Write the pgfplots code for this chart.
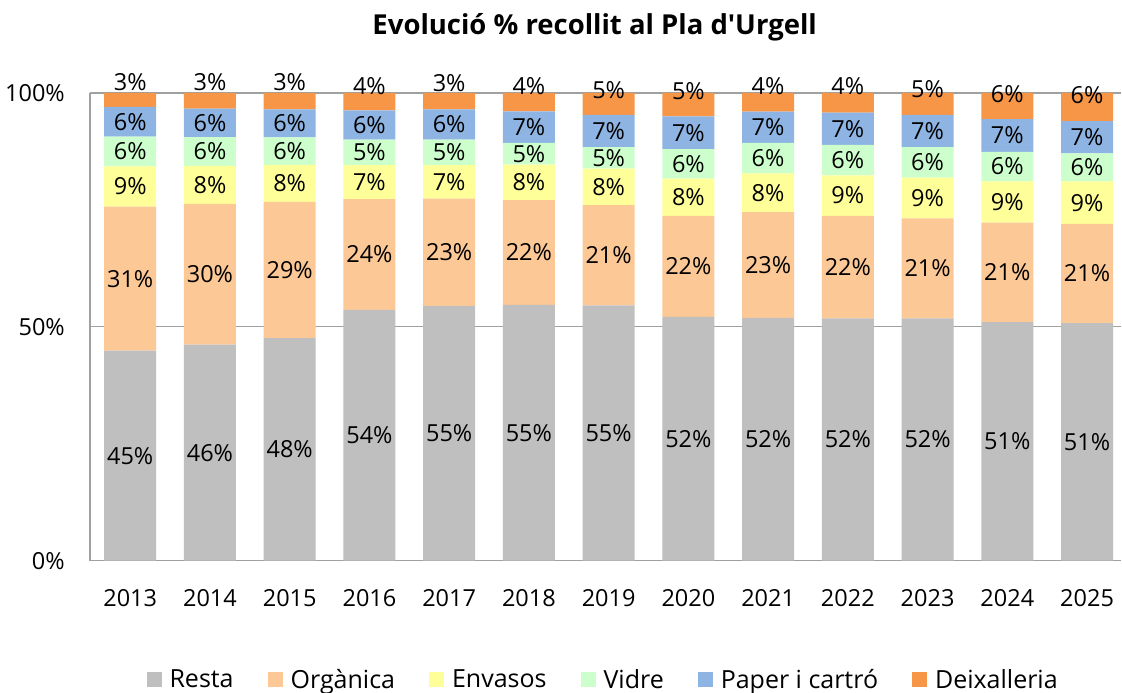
\documentclass[border=0pt]{standalone}
\usepackage{pgfplots}
\usepackage{pgfplotstable}
\pgfplotsset{compat=1.18}
\usepackage{fontspec}
\setmainfont{Open Sans}
\definecolor{cResta}{RGB}{191,191,191}
\definecolor{cOrg}{RGB}{252,200,150}
\definecolor{cEnv}{RGB}{255,255,153}
\definecolor{cVid}{RGB}{204,255,204}
\definecolor{cPap}{RGB}{142,180,227}
\definecolor{cDeix}{RGB}{247,150,70}
\definecolor{cAxis}{RGB}{160,160,160}
\newcommand\fs{\fontsize{23.5}{28}\selectfont}
\newcommand\fl{\fontsize{25}{30}\selectfont}

\pgfplotstableread{
x resta org env vid pap deix
0 44.9 30.8 8.6 6.35 6.35 3.0
1 46.2 30.1 8.1 6.15 6.1 3.35
2 47.6 29.1 7.9 5.9 6.0 3.5
3 53.6 23.7 7.25 5.45 6.25 3.75
4 54.5 22.9 7.15 5.45 6.5 3.5
5 54.7 22.4 7.55 4.65 6.75 3.95
6 54.6 21.4 7.8 4.6 6.9 4.7
7 52.1 21.6 8.0 6.3 7.0 5.0
8 51.9 22.6 8.3 6.5 6.7 4.0
9 51.8 21.9 8.7 6.5 6.9 4.2
10 51.8 21.4 8.7 6.5 6.9 4.7
11 51.0 21.3 8.8 6.3 7.0 5.6
12 50.8 21.2 9.1 6.0 6.9 6.0
}\data

\pgfplotstableread{
x y l
0 22.45 45
0 60.3 31
0 80.0 9
0 87.475 6
0 93.825 6
0 102.35 3
1 23.1 46
1 61.25 30
1 80.35 8
1 87.475 6
1 93.6 6
1 102.35 3
2 23.8 48
2 62.15 29
2 80.65 8
2 87.55 6
2 93.5 6
2 102.35 3
3 26.8 54
3 65.45 24
3 80.925 7
3 87.275 5
3 93.125 6
3 101.56 4
4 27.25 55
4 65.95 23
4 80.975 7
4 87.275 5
4 93.25 6
4 102.07 3
5 27.35 55
5 65.9 22
5 80.875 8
5 86.975 5
5 92.675 7
5 101.39 4
6 27.3 55
6 65.3 21
6 79.9 8
6 86.1 5
6 91.85 7
6 100.64 5
7 26.05 52
7 62.9 22
7 77.7 8
7 84.85 6
7 91.5 7
7 100.49 5
8 25.95 52
8 63.2 23
8 78.65 8
8 86.05 6
8 92.65 7
8 101.5 4
9 25.9 52
9 62.75 22
9 78.05 9
9 85.65 6
9 92.35 7
9 101.5 4
10 25.9 52
10 62.5 21
10 77.55 9
10 85.15 6
10 91.85 7
10 100.86 5
11 25.5 51
11 61.65 21
11 76.7 9
11 84.25 6
11 90.9 7
11 99.79 6
12 25.4 51
12 61.4 21
12 76.55 9
12 84.1 6
12 90.55 7
12 99.5 6
}\labels

\pgfplotsset{sqleg/.style={legend image code/.code={\fill[##1] (0pt,-7.5pt) rectangle (15pt,7.5pt);}}}

\begin{document}
\begin{tikzpicture}
\begin{axis}[
  at={(90pt,132pt)}, anchor=south west,
  scale only axis, width=1032pt, height=468pt,
  ybar stacked, bar width=52pt,
  xmin=-0.505, xmax=12.43, ymin=0, ymax=100,
  xtick={0,...,12},
  xticklabels={2013,2014,2015,2016,2017,2018,2019,2020,2021,2022,2023,2024,2025},
  ytick={0,50,100}, yticklabels={0\%,50\%,100\%},
  axis x line*=bottom, axis y line*=left,
  axis line style={-, cAxis, line width=1.3pt},
  ymajorgrids, grid style={cAxis, line width=1.3pt},
  major tick length=0pt,
  tick label style={font=\fs, inner sep=0pt},
  xticklabel style={anchor=center, yshift=-37pt},
  yticklabel style={anchor=east, xshift=-25pt},
  title={Evolució \% recollit al Pla d\textquotesingle Urgell},
  title style={font=\fontsize{27.5}{32}\selectfont\bfseries, at={(0.5,1)}, anchor=center, yshift=60pt, xshift=-11pt},
  legend columns=6,
  legend style={draw=none, fill=none, at={(0.4966,-0.2543)}, anchor=center, font=\fl,
    nodes={inner sep=0pt},
    /tikz/every odd column/.append style={column sep=8pt},
    /tikz/every even column/.append style={column sep=34pt}},
]
\addplot[fill=cResta, draw=none, sqleg] table[x=x,y=resta]{\data};
\addplot[fill=cOrg, draw=none, sqleg] table[x=x,y=org]{\data};
\addplot[fill=cEnv, draw=none, sqleg] table[x=x,y=env]{\data};
\addplot[fill=cVid, draw=none, sqleg] table[x=x,y=vid]{\data};
\addplot[fill=cPap, draw=none, sqleg] table[x=x,y=pap]{\data};
\addplot[fill=cDeix, draw=none, sqleg] table[x=x,y=deix]{\data};
\legend{Resta, Orgànica, Envasos, Vidre, Paper i cartró, Deixalleria}
\end{axis}
\begin{axis}[
  at={(90pt,132pt)}, anchor=south west,
  scale only axis, width=1032pt, height=468pt,
  xmin=-0.505, xmax=12.43, ymin=0, ymax=100,
  hide axis, clip=false,
]
\addplot[draw=none, mark=none, nodes near coords={\pgfplotspointmeta\%}, point meta=explicit symbolic,
  every node near coord/.append style={anchor=center, font=\fs, inner sep=0pt, text=black}]
  table[x=x,y=y,meta=l]{\labels};
\end{axis}
\path (0pt,0pt) rectangle (1122pt,693pt);
\end{tikzpicture}
\end{document}
